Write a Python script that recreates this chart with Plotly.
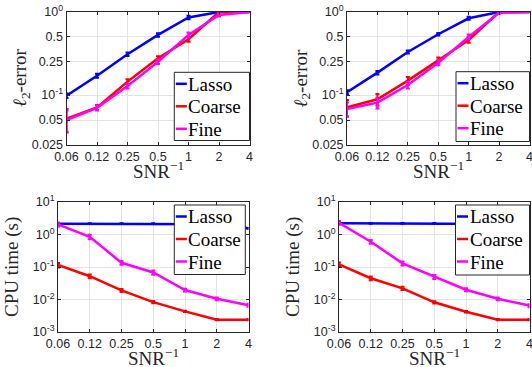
import plotly.graph_objects as go
import math

snr = [0.0625, 0.125, 0.25, 0.5, 1, 2, 4]
snr_labels = ["0.06", "0.12", "0.25", "0.5", "1", "2", "4"]
series_names = ["Lasso", "Coarse", "Fine"]
series_colors = ["#0000ff", "#ff0000", "#ff00ff"]

# top-left: l2 error
tl_lasso = [0.098, 0.171, 0.31, 0.53, 0.86, 1.0, 1.0]
tl_coarse = [0.052, 0.071, 0.145, 0.277, 0.469, 1.0, 1.0]
tl_fine = [0.050, 0.070, 0.128, 0.252, 0.53, 0.92, 1.0]
tl_lasso_err = [0.006, 0.01, 0.015, 0.025, 0.04, 0.01, 0.0]
tl_coarse_err = [0.016, 0.005, 0.01, 0.017, 0.03, 0.02, 0.0]
tl_fine_err = [0.015, 0.005, 0.008, 0.015, 0.035, 0.04, 0.0]

# top-right: l2 error
tr_lasso = [0.108, 0.186, 0.33, 0.54, 0.84, 1.0, 1.0]
tr_coarse = [0.071, 0.089, 0.149, 0.264, 0.46, 1.0, 1.0]
tr_fine = [0.068, 0.081, 0.132, 0.245, 0.50, 0.98, 1.0]
tr_lasso_err = [0.006, 0.009, 0.013, 0.02, 0.035, 0.01, 0.0]
tr_coarse_err = [0.016, 0.014, 0.016, 0.02, 0.035, 0.02, 0.0]
tr_fine_err = [0.013, 0.012, 0.012, 0.017, 0.035, 0.03, 0.0]

# bottom-left: CPU time
bl_lasso = [2.15, 2.15, 2.15, 2.15, 2.1, 2.05, 1.55]
bl_coarse = [0.115, 0.052, 0.019, 0.0083, 0.0043, 0.0024, 0.0024]
bl_fine = [2.05, 0.85, 0.135, 0.068, 0.0195, 0.0105, 0.0067]
bl_lasso_err = [0.08, 0.06, 0.06, 0.06, 0.06, 0.06, 0.04]
bl_coarse_err = [0.018, 0.007, 0.002, 0.0007, 0.0002, 0.0001, 0.0001]
bl_fine_err = [0.3, 0.13, 0.018, 0.01, 0.002, 0.001, 0.0007]

# bottom-right: CPU time
br_lasso = [2.2, 2.2, 2.2, 2.2, 2.15, 2.1, 1.55]
br_coarse = [0.12, 0.045, 0.022, 0.0082, 0.0042, 0.0024, 0.0024]
br_fine = [2.3, 0.6, 0.13, 0.05, 0.02, 0.0105, 0.0065]
br_lasso_err = [0.08, 0.06, 0.06, 0.06, 0.06, 0.06, 0.04]
br_coarse_err = [0.018, 0.006, 0.0025, 0.0007, 0.0002, 0.0001, 0.0001]
br_fine_err = [0.3, 0.08, 0.018, 0.007, 0.002, 0.001, 0.0007]

err_ticks = [0.025, 0.05, 0.1, 0.25, 0.5, 1.0]
err_ticktext = ["0.025", "0.05", "10<sup>-1</sup>", "0.25", "0.5", "10<sup>0</sup>"]
cpu_ticks = [0.001, 0.01, 0.1, 1, 10]
cpu_ticktext = ["10<sup>-3</sup>", "10<sup>-2</sup>", "10<sup>-1</sup>", "10<sup>0</sup>", "10<sup>1</sup>"]

W, H = 532, 367
AX = "#262626"
GRID = "#e3e3e3"
SERIF = "Liberation Serif, Times New Roman, serif"
SANS = "Liberation Sans, Arial, sans-serif"

panels = [
    dict(vals=[tl_lasso, tl_coarse, tl_fine], errs=[tl_lasso_err, tl_coarse_err, tl_fine_err],
         px=(66.5, 249.5), py=(12, 145), kind="err", box=(174.3, 72.3, 249.5, 140.5)),
    dict(vals=[tr_lasso, tr_coarse, tr_fine], errs=[tr_lasso_err, tr_coarse_err, tr_fine_err],
         px=(347, 529.5), py=(12, 145), kind="err", box=(456, 71.7, 529.5, 141.5)),
    dict(vals=[bl_lasso, bl_coarse, bl_fine], errs=[bl_lasso_err, bl_coarse_err, bl_fine_err],
         px=(58, 248.5), py=(202, 332), kind="cpu", box=(174.3, 205, 245.3, 274.5)),
    dict(vals=[br_lasso, br_coarse, br_fine], errs=[br_lasso_err, br_coarse_err, br_fine_err],
         px=(339, 529.5), py=(202, 332), kind="cpu", box=(455.5, 205, 529.5, 275)),
]


def fx(px):
    return px / W


def fy(py):
    return (H - py) / H


fig = go.Figure()
layout = dict(template="none", width=W, height=H, margin=dict(l=0, r=0, t=0, b=0, pad=0),
              autosize=False, paper_bgcolor="white", plot_bgcolor="white", showlegend=False)
annotations = []
shapes = []

for i, p in enumerate(panels):
    n = "" if i == 0 else str(i + 1)
    xa, ya = "x" + n, "y" + n
    for name, color, v, e in zip(series_names, series_colors, p["vals"], p["errs"]):
        fig.add_trace(go.Scatter(
            x=snr, y=v, name=name, mode="lines", xaxis=xa, yaxis=ya,
            line=dict(color=color, width=2.5),
            error_y=dict(type="data", array=e, visible=True, color=color, thickness=2, width=2),
        ))
    x0, x1 = p["px"]
    y0, y1 = p["py"]
    xdom = [fx(x0), fx(x1)]
    ydom = [fy(y1), fy(y0)]
    common = dict(showline=True, linecolor=AX, linewidth=1, mirror="ticks", ticks="inside",
                  ticklen=3, tickcolor=AX, showgrid=True, gridcolor=GRID, gridwidth=1,
                  zeroline=False, automargin=False, ticklabeloverflow="allow",
                  tickfont=dict(family=SANS, size=12.5, color=AX))
    layout["xaxis" + n] = dict(common, type="log", domain=xdom, anchor=ya,
                               range=[math.log10(snr[0]), math.log10(snr[-1])],
                               tickvals=snr, ticktext=snr_labels)
    if p["kind"] == "err":
        layout["yaxis" + n] = dict(common, type="log", domain=ydom, anchor=xa,
                                   range=[math.log10(0.025), 0], tickvals=err_ticks,
                                   ticktext=err_ticktext)
        ytitle = "<i>ℓ</i><sub>2</sub>-error"
    else:
        layout["yaxis" + n] = dict(common, type="log", domain=ydom, anchor=xa,
                                   range=[-3, 1], tickvals=cpu_ticks, ticktext=cpu_ticktext)
        ytitle = "CPU time (s)"

    # legend box drawn with shapes and text
    bx0, by0, bx1, by1 = p["box"]
    shapes.append(dict(type="rect", xref="paper", yref="paper",
                       x0=fx(bx0), x1=fx(bx1), y0=fy(by1), y1=fy(by0),
                       fillcolor="white", line=dict(color=AX, width=1), layer="above"))
    for k, (name, color) in enumerate(zip(series_names, series_colors)):
        ry = by0 + 11.5 + k * 22.5
        shapes.append(dict(type="line", xref="paper", yref="paper",
                           x0=fx(bx0 + 1.5), x1=fx(bx0 + 12.5), y0=fy(ry), y1=fy(ry),
                           line=dict(color=color, width=2.5), layer="above"))
        annotations.append(dict(text=name, x=fx(bx0 + 12), y=fy(ry + 0.5),
                                xref="paper", yref="paper", showarrow=False,
                                xanchor="left", yanchor="middle",
                                font=dict(family=SERIF, size=19, color="black")))

    # axis titles
    annotations.append(dict(text="SNR<sup>−1</sup>", x=fx((x0 + x1) / 2), y=fy(y1 + 25),
                            xref="paper", yref="paper", showarrow=False,
                            xanchor="center", yanchor="middle",
                            font=dict(family=SERIF, size=19, color=AX)))
    annotations.append(dict(text=ytitle, x=fx(x0 - 46), y=fy((y0 + y1) / 2),
                            xref="paper", yref="paper", showarrow=False, textangle=-90,
                            xanchor="center", yanchor="middle",
                            font=dict(family=SERIF, size=19, color=AX)))

layout["annotations"] = annotations
layout["shapes"] = shapes
fig.update_layout(**layout)
# remove the browser's default 8px page margin so the figure fills the window
fig.write_html("out.html", config={"displayModeBar": False},
               post_script="document.body.style.margin='0';")
